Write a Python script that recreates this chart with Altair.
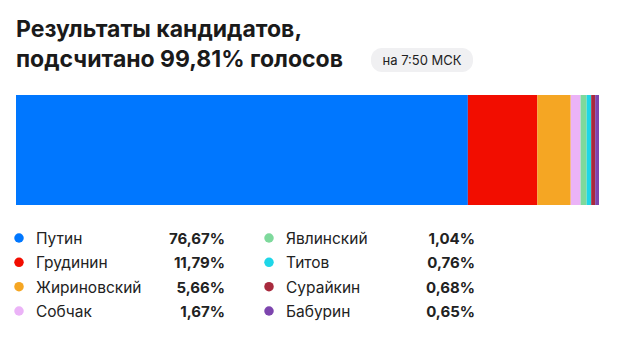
import altair as alt
import pandas as pd

names = ["Путин", "Грудинин", "Жириновский", "Собчак", "Явлинский", "Титов", "Сурайкин", "Бабурин"]
values = [76.67, 11.79, 5.66, 1.67, 1.04, 0.76, 0.68, 0.65]
labels = ["76,67%", "11,79%", "5,66%", "1,67%", "1,04%", "0,76%", "0,68%", "0,65%"]
colors = ["#0077FF", "#F20D00", "#F5A623", "#EBB3F7", "#7ED99C", "#1ED6E8", "#A82A3D", "#7D45AE"]
title_lines = ["Результаты кандидатов,", "подсчитано 99,81% голосов"]
badge_text = "на 7:50 МСК"

total = sum(values)
FONT = "Inter"

df = pd.DataFrame({
    "name": names,
    "pct": values,
    "label": labels,
    "order": list(range(len(names))),
    "col": [i // 4 for i in range(len(names))],
    "row": [i % 4 for i in range(len(names))],
})

color_scale = alt.Scale(domain=names, range=colors)

bar = alt.Chart(df).transform_window(
    cum="sum(pct)", sort=[alt.SortField("order")], frame=[None, 0]
).transform_calculate(
    start="datum.cum - datum.pct"
).mark_rect(strokeWidth=0).encode(
    x=alt.X("start:Q", scale=alt.Scale(domain=[0, total], range=[16, 599], nice=False, zero=True), axis=None),
    x2="cum:Q",
    y=alt.value(95),
    y2=alt.value(205),
    color=alt.Color("name:N", scale=color_scale, legend=None),
)

lx = alt.X("col:Q", scale=alt.Scale(domain=[0, 1], range=[19, 269], nice=False, zero=False), axis=None)
ly = alt.Y("row:Q", scale=alt.Scale(domain=[0, 3], range=[238, 311], nice=False, zero=False), axis=None)

dots = alt.Chart(df).mark_circle(size=90, opacity=1).encode(
    x=lx, y=ly, color=alt.Color("name:N", scale=color_scale, legend=None)
)
name_txt = alt.Chart(df).mark_text(align="left", baseline="middle", dx=17, dy=1, font=FONT, fontSize=15.5, color="#222222").encode(
    x=lx, y=ly, text="name:N"
)
pct_txt = alt.Chart(df).mark_text(align="right", baseline="middle", dx=206, dy=1, font=FONT, fontSize=15, fontWeight="bold", color="#222222").encode(
    x=lx, y=ly, text="label:N"
)

tdf = pd.DataFrame({"t": title_lines, "i": [0, 1]})
title = alt.Chart(tdf).mark_text(align="left", baseline="alphabetic", font=FONT, fontSize=23, fontWeight="bold", color="#1A1A1A").encode(
    x=alt.value(16),
    y=alt.Y("i:Q", scale=alt.Scale(domain=[0, 1], range=[37, 67], nice=False, zero=False), axis=None),
    text="t:N",
)

bdf = pd.DataFrame({"t": [badge_text]})
badge_bg = alt.Chart(bdf).mark_rect(cornerRadius=11, color="#F0F0F2").encode(
    x=alt.value(371), x2=alt.value(473), y=alt.value(48), y2=alt.value(72)
)
badge_txt = alt.Chart(bdf).mark_text(align="center", baseline="middle", font=FONT, fontSize=13, color="#222222").encode(
    x=alt.value(422), y=alt.value(60.5), text="t:N"
)

chart = alt.layer(bar, dots, name_txt, pct_txt, title, badge_bg, badge_txt).resolve_scale(
    x="independent", y="independent"
).properties(
    width=628, height=354, padding=0, autosize=alt.AutoSizeParams(type="none"), background="white"
).configure_view(stroke=None)

chart.save("out.html", embed_options={"renderer": "svg", "actions": False})
